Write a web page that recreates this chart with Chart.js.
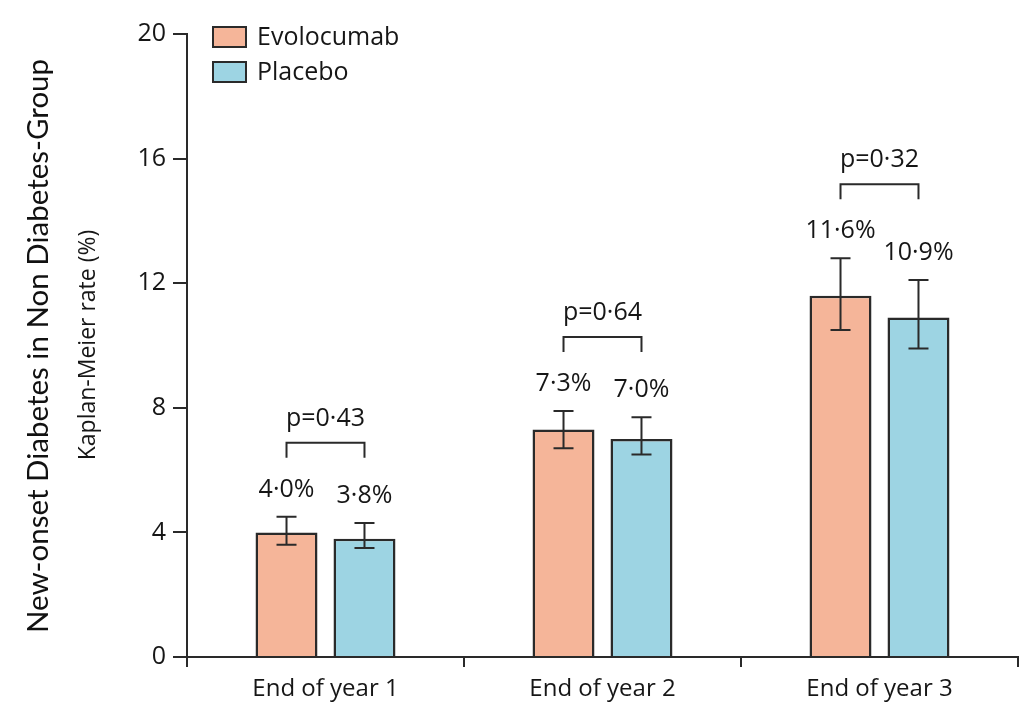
<!DOCTYPE html>
<html>
<head>
<meta charset="utf-8">
<script src="https://cdn.jsdelivr.net/npm/chart.js@4/dist/chart.umd.min.js"></script>
<style>
  html, body { margin: 0; padding: 0; background: #fff; }
  #wrap { width: 1020px; height: 705px; position: relative; }
</style>
</head>
<body>
<div id="wrap"><canvas id="c" width="1020" height="705"></canvas></div>
<script>
// Kaplan-Meier rates of new-onset diabetes, by treatment arm
const categories = ['End of year 1', 'End of year 2', 'End of year 3'];
const evolocumab = [4.0, 7.3, 11.6];
const placebo = [3.8, 7.0, 10.9];
// 95% confidence limits
const evolocumabLower = [3.6, 6.7, 10.5];
const evolocumabUpper = [4.5, 7.9, 12.8];
const placeboLower = [3.5, 6.5, 9.9];
const placeboUpper = [4.3, 7.7, 12.1];
const pValues = ['p=0·43', 'p=0·64', 'p=0·32'];
const yTicks = [0, 4, 8, 12, 16, 20];
const seriesNames = ['Evolocumab', 'Placebo'];

const INK = '#161616';
const LINE = '#2a2a2a';
const EVO_FILL = '#F5B599';
const PLA_FILL = '#9DD4E3';
const FONT = '"Open Sans", "DejaVu Sans", sans-serif';

const fmt = v => v.toFixed(1).replace('.', '·') + '%';

const annotations = {
  id: 'annotations',
  afterDatasetsDraw(chart) {
    const ctx = chart.ctx;
    const y = chart.scales.y;
    const lows = [evolocumabLower, placeboLower];
    const highs = [evolocumabUpper, placeboUpper];
    const vals = [evolocumab, placebo];

    ctx.save();
    ctx.strokeStyle = LINE;
    ctx.lineWidth = 2;
    ctx.fillStyle = INK;
    ctx.textAlign = 'center';
    ctx.textBaseline = 'middle';
    ctx.font = '25px ' + FONT;

    const centers = [[], []];
    const tops = [[], []];
    for (let d = 0; d < 2; d++) {
      const meta = chart.getDatasetMeta(d);
      meta.data.forEach((bar, i) => {
        const x = bar.x;
        const yHi = y.getPixelForValue(highs[d][i]);
        const yLo = y.getPixelForValue(lows[d][i]);
        centers[d][i] = x;
        tops[d][i] = yHi;
        // error bar
        ctx.beginPath();
        ctx.moveTo(x, yLo); ctx.lineTo(x, yHi);
        ctx.moveTo(x - 10, yHi); ctx.lineTo(x + 10, yHi);
        ctx.moveTo(x - 10, yLo); ctx.lineTo(x + 10, yLo);
        ctx.stroke();
        // value label
        ctx.fillText(fmt(vals[d][i]), x, yHi - 27);
      });
    }

    // significance brackets
    categories.forEach((c, i) => {
      const x1 = centers[0][i], x2 = centers[1][i];
      const yb = Math.min(tops[0][i], tops[1][i]) - 74;
      ctx.beginPath();
      ctx.moveTo(x1, yb + 15); ctx.lineTo(x1, yb);
      ctx.lineTo(x2, yb); ctx.lineTo(x2, yb + 15);
      ctx.stroke();
      ctx.fillText(pValues[i], (x1 + x2) / 2, yb - 24);
    });

    // legend
    const fills = [EVO_FILL, PLA_FILL];
    ctx.textAlign = 'left';
    ctx.font = '25px ' + FONT;
    seriesNames.forEach((name, k) => {
      const top = 27 + k * 35;
      ctx.fillStyle = fills[k];
      ctx.fillRect(213, top, 33, 20);
      ctx.strokeRect(213, top, 33, 20);
      ctx.fillStyle = INK;
      ctx.fillText(name, 257, top + 11);
    });

    // axis titles
    ctx.textAlign = 'center';
    ctx.save();
    ctx.translate(88, 345);
    ctx.rotate(-Math.PI / 2);
    ctx.font = '23px ' + FONT;
    ctx.fillText('Kaplan-Meier rate (%)', 0, 0);
    ctx.restore();

    ctx.save();
    ctx.translate(38, 346);
    ctx.rotate(-Math.PI / 2);
    ctx.font = '29.5px Lato, "Open Sans", sans-serif';
    ctx.fillStyle = '#111';
    ctx.fillText('New-onset Diabetes in Non Diabetes-Group', 0, 0);
    ctx.restore();

    ctx.restore();
  }
};

new Chart(document.getElementById('c'), {
  type: 'bar',
  data: {
    labels: categories,
    datasets: [
      { label: seriesNames[0], data: evolocumab, backgroundColor: EVO_FILL,
        borderColor: LINE, borderWidth: 2.5 },
      { label: seriesNames[1], data: placebo, backgroundColor: PLA_FILL,
        borderColor: LINE, borderWidth: 2.5 }
    ]
  },
  options: {
    responsive: false,
    animation: false,
    devicePixelRatio: 1,
    categoryPercentage: 0.563,
    barPercentage: 0.795,
    layout: { padding: { top: 34, right: 2, left: 0, bottom: 0 } },
    plugins: { legend: { display: false }, tooltip: { enabled: false } },
    scales: {
      x: {
        grid: { offset: true, drawOnChartArea: false, drawTicks: true,
                tickLength: 10, color: LINE, lineWidth: 2 },
        border: { display: true, color: LINE, width: 2 },
        ticks: { font: { family: FONT, size: 24 }, color: INK, padding: 8 },
        afterFit(scale) { scale.height = 48; }
      },
      y: {
        min: 0, max: 20,
        afterBuildTicks(scale) { scale.ticks = yTicks.map(v => ({ value: v })); },
        grid: { drawOnChartArea: false, drawTicks: true, tickLength: 14,
                color: LINE, lineWidth: 2 },
        border: { display: true, color: LINE, width: 2 },
        ticks: { font: { family: FONT, size: 25 }, color: INK, padding: 7 },
        afterFit(scale) { scale.width = 187; }
      }
    }
  },
  plugins: [annotations]
});
</script>
</body>
</html>
